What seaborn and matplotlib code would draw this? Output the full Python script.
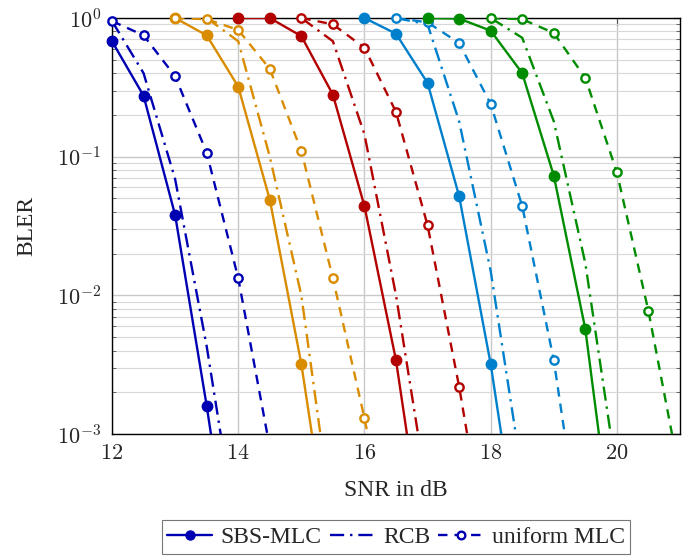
import numpy as np
import pandas as pd
import matplotlib
matplotlib.use("Agg")
import matplotlib.pyplot as plt
import seaborn as sns
from matplotlib.lines import Line2D
from matplotlib.ticker import LogLocator, NullFormatter

# ---- data ----
colors = ["#0000b3", "#d98c00", "#b30000", "#0080cc", "#008c00"]

sbs_x = [[12, 12.5, 13, 13.5, 14],
         [13, 13.5, 14, 14.5, 15, 15.5],
         [14, 14.5, 15, 15.5, 16, 16.5, 17],
         [16, 16.5, 17, 17.5, 18, 18.5],
         [17, 17.5, 18, 18.5, 19, 19.5, 20]]
sbs_y = [[0.68, 0.275, 0.038, 0.0016, 5e-5],
         [1.0, 0.75, 0.32, 0.049, 0.0032, 1e-4],
         [1.0, 1.0, 0.74, 0.28, 0.044, 0.0034, 1e-4],
         [1.0, 0.77, 0.34, 0.052, 0.0032, 1e-4],
         [1.0, 0.99, 0.81, 0.40, 0.073, 0.0057, 1e-4]]

rcb_x = [[12, 12.5, 13, 13.5, 14],
         [13.5, 14, 14.5, 15, 15.5],
         [15, 15.5, 16, 16.5, 17],
         [16.5, 17, 17.5, 18, 18.5],
         [18, 18.5, 19, 19.5, 20]]
rcb_y = [[0.95, 0.40, 0.069, 0.0043, 1.6e-4],
         [1.0, 0.68, 0.10, 0.010, 2.2e-4],
         [1.0, 0.68, 0.145, 0.010, 3.7e-4],
         [1.0, 0.90, 0.18, 0.015, 5e-4],
         [1.0, 0.72, 0.18, 0.017, 5e-4]]

uni_x = [[12, 12.5, 13, 13.5, 14, 14.5],
         [13, 13.5, 14, 14.5, 15, 15.5, 16, 16.5],
         [15, 15.5, 16, 16.5, 17, 17.5, 18],
         [16.5, 17, 17.5, 18, 18.5, 19, 19.5],
         [18, 18.5, 19, 19.5, 20, 20.5, 21]]
uni_y = [[0.95, 0.75, 0.38, 0.107, 0.0133, 8e-4],
         [1.0, 0.98, 0.82, 0.43, 0.11, 0.0133, 0.0013, 1e-4],
         [1.0, 0.9, 0.61, 0.21, 0.032, 0.0022, 1e-4],
         [1.0, 0.93, 0.66, 0.24, 0.044, 0.0034, 1e-4],
         [1.0, 0.98, 0.78, 0.37, 0.077, 0.0077, 5e-4]]

legend_labels = ["SBS-MLC", "RCB", "uniform MLC"]
xticks = [12, 14, 16, 18, 20]

# ---- style ----
sns.set_style("white")
plt.rcParams["font.family"] = ["serif"]
plt.rcParams["font.serif"] = ["cmr10", "DejaVu Serif"]
plt.rcParams["mathtext.fontset"] = "cm"
plt.rcParams["axes.formatter.use_mathtext"] = True
plt.rcParams["axes.unicode_minus"] = False

text_font = ["Liberation Serif", "DejaVu Serif"]

fig = plt.figure(figsize=(6.96, 5.58), dpi=100)
ax = fig.add_axes([112/696, 1-434/558, (680-112)/696, (434-18)/558])

ymin, ymax = 1e-3, 1.0

def draw(xs, ys, color, ls, marker, filled):
    df = pd.DataFrame({"x": xs, "y": ys})
    sns.lineplot(data=df, x="x", y="y", ax=ax, color=color, linestyle=ls,
                 linewidth=1.7, estimator=None, sort=False, zorder=3)
    if marker:
        vis = df[(df.y >= ymin) & (df.y <= ymax * 1.001)]
        ax.plot(vis.x, vis.y, linestyle="none", marker="o",
                markersize=7.5 if filled else 6,
                markerfacecolor=color if filled else "white",
                markeredgecolor=color, markeredgewidth=1.7 if not filled else 1,
                clip_on=False, zorder=4)

for i, c in enumerate(colors):
    draw(sbs_x[i], sbs_y[i], c, "-", True, True)
    draw(rcb_x[i], rcb_y[i], c, (0, (6, 2.5, 1, 2.5)), False, False)
    draw(uni_x[i], uni_y[i], c, (0, (4, 3)), True, False)

ax.set_yscale("log")
ax.set_xlim(12, 21)
ax.set_ylim(ymin, ymax)
ax.set_xticks(xticks)
ax.yaxis.set_major_locator(LogLocator(base=10, numticks=10))
ax.yaxis.set_minor_locator(LogLocator(base=10, subs=np.arange(2, 10), numticks=20))
ax.yaxis.set_minor_formatter(NullFormatter())

ax.grid(True, which="major", color="#c8c8c8", linewidth=1.0)
ax.grid(True, which="minor", axis="y", color="#d8d8d8", linewidth=0.8)
ax.set_axisbelow(True)
for s in ax.spines.values():
    s.set_color("black")
    s.set_linewidth(1.0)

ax.tick_params(axis="both", which="major", direction="in", length=5,
               top=True, right=True, labelsize=16, color="#555555")
ax.tick_params(axis="x", which="major", pad=7)
ax.tick_params(axis="y", which="major", pad=8)
ax.tick_params(axis="y", which="minor", direction="in", length=3,
               left=True, right=True, color="#555555")

ax.set_xlabel("SNR in dB", fontsize=17, family=text_font, labelpad=12)
ax.set_ylabel("BLER", fontsize=17, family=text_font, labelpad=14)

c0 = colors[0]
handles = [
    Line2D([], [], color=c0, linestyle="-", linewidth=1.7, marker="o",
           markersize=6.5, markerfacecolor=c0, markeredgecolor=c0),
    Line2D([], [], color=c0, linestyle=(0, (6, 2.5, 1, 2.5)), linewidth=1.7),
    Line2D([], [], color=c0, linestyle=(0, (4, 3)), linewidth=1.7, marker="o",
           markersize=5.5, markerfacecolor="white", markeredgecolor=c0,
           markeredgewidth=1.7),
]
leg = fig.legend(handles, legend_labels, loc="center",
                 bbox_to_anchor=(396/696, 1-537/558), ncol=3, frameon=True,
                 fancybox=False, edgecolor="#555555",
                 prop={"family": text_font, "size": 17},
                 handlelength=1.9, handletextpad=0.35, columnspacing=0.35,
                 borderpad=0.25)
leg.get_frame().set_linewidth(0.8)

fig.savefig("out.png", dpi=100)
